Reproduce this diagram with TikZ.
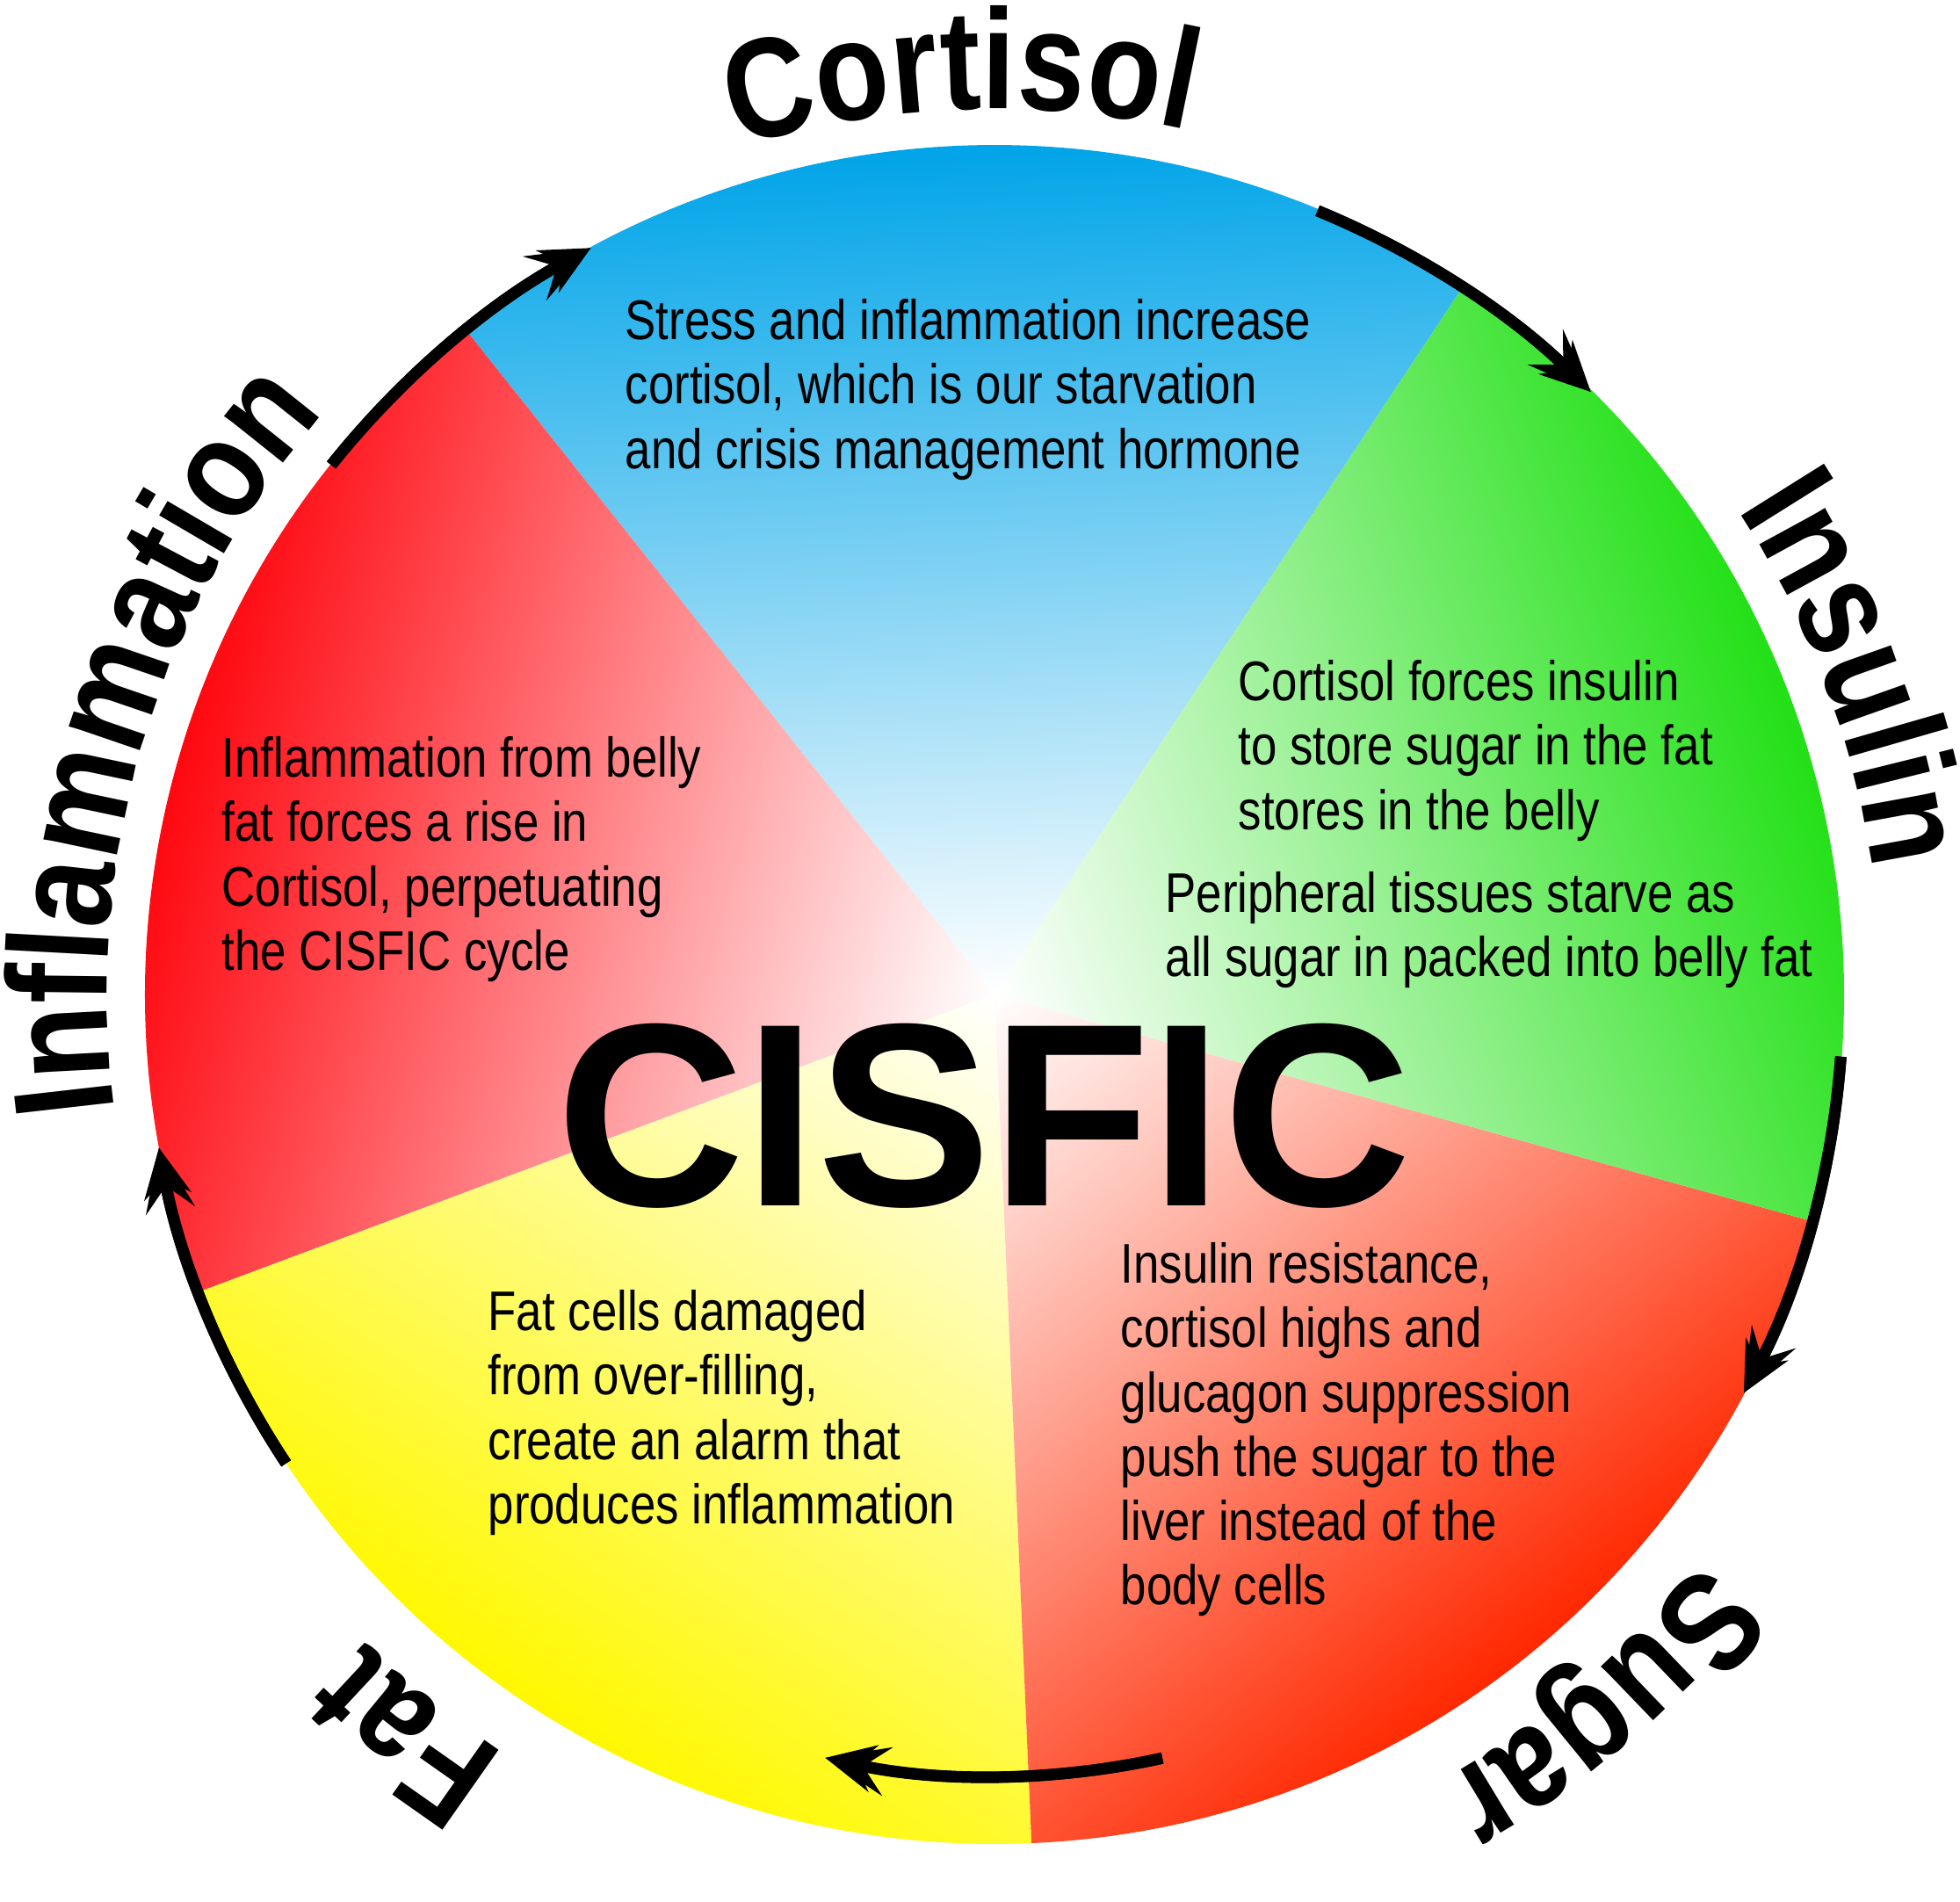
\documentclass[tikz,border=0pt]{standalone}
\usepackage{fontspec}
\setmainfont{Liberation Sans}[FakeStretch=0.83]
\newfontfamily\cisplain{Liberation Sans}
\newfontfamily\cisnarrow{Liberation Sans}[FakeStretch=0.85]
\usetikzlibrary{arrows.meta,decorations.text}

\definecolor{cisblue}{RGB}{0,164,232}
\definecolor{cisred}{RGB}{255,8,16}
\definecolor{cisyellow}{RGB}{255,248,0}
\definecolor{cisorange}{RGB}{255,40,0}
\definecolor{cisgreen}{RGB}{34,224,22}

\newcommand{\ringfont}{\fontsize{46}{50}\cisnarrow\bfseries}

\begin{document}
\begin{tikzpicture}[
    note/.style={anchor=north west, align=left, inner sep=0pt,
      font=\fontsize{18.1}{20.8}\selectfont},
    cycarrow/.style={line width=3.7pt,
      -{Stealth[length=7.2mm,width=5.6mm,inset=2.8mm]},
      postaction={draw, -{Stealth[length=5.6mm,width=5.4mm,inset=2mm]}}},
    ringlabel/.style={decorate, decoration={text along path,
      text align=center, text={|\ringfont|#1}}}
  ]
\useasboundingbox (-11.32,-10.32) rectangle (10.99,11.32);

% Sectors
\foreach \ang/\col in {92.5/cisblue, 164.5/cisred, 236.5/cisyellow, 308.5/cisorange, 20.5/cisgreen}{
  \begin{scope}[transform canvas={rotate=\ang}]
    \clip (0,0) -- (-36:9.67) arc[start angle=-36, end angle=36, radius=9.67] -- cycle;
    \shade[left color=white, right color=\col] (0,-9.67) rectangle (9.67,9.67);
  \end{scope}
}

% Ring labels
\path[ringlabel=Cortisol] (112.1:10.08) arc[start angle=112.1, end angle=72.1, radius=10.08];
\path[ringlabel=Insulin] (40.6:10.1) arc[start angle=40.6, end angle=0.6, radius=10.1];
\path[ringlabel=Sugar] (-29.5:10.3) arc[start angle=-29.5, end angle=-69.5, radius=10.3];
\path[ringlabel=Fat] (-108.5:10.28) arc[start angle=-108.5, end angle=-148.5, radius=10.28];
\path[ringlabel=Inflammation] (195.3:10.1) arc[start angle=195.3, end angle=131.3, radius=10.1];

% Cycle arrows
\foreach \a/\b/\r [count=\i] in {67.6/45.3/9.65, -4.2/-28/9.66, -77.6/-102.5/8.9, 213.5/190.4/9.67, 141.4/118.4/9.66}{
  \coordinate (tail\i) at (\a:\r);
  \draw[cycarrow] (tail\i) arc[start angle=\a, end angle=\b, radius=\r];
}

% Sector notes
\node[note] (cortisolnote) at (-4.21,7.92)
  {Stress and inflammation increase\\cortisol, which is our starvation\\and crisis management hormone};
\node[note] (insulinnote) at (2.77,3.81)
  {Cortisol forces insulin\\to store sugar in the fat\\stores in the belly};
\node[note] (starvenote) at (1.94,1.40)
  {Peripheral tissues starve as\\all sugar in packed into belly fat};
\node[note] (sugarnote) at (1.43,-2.82)
  {Insulin resistance,\\cortisol highs and\\glucagon suppression\\push the sugar to the\\liver instead of the\\body cells};
\node[note] (fatnote) at (-5.77,-3.36)
  {Fat cells damaged\\from over-filling,\\create an alarm that\\produces inflammation};
\node[note] (inflamnote) at (-8.80,2.94)
  {Inflammation from belly\\fat forces a rise in\\Cortisol, perpetuating\\the CISFIC cycle};

% Centre title
\node[font=\fontsize{84.5}{90}\cisplain\bfseries, inner sep=0pt, anchor=base] (cisfic) at (-0.12,-2.40) {CISFIC};

\end{tikzpicture}
\end{document}
